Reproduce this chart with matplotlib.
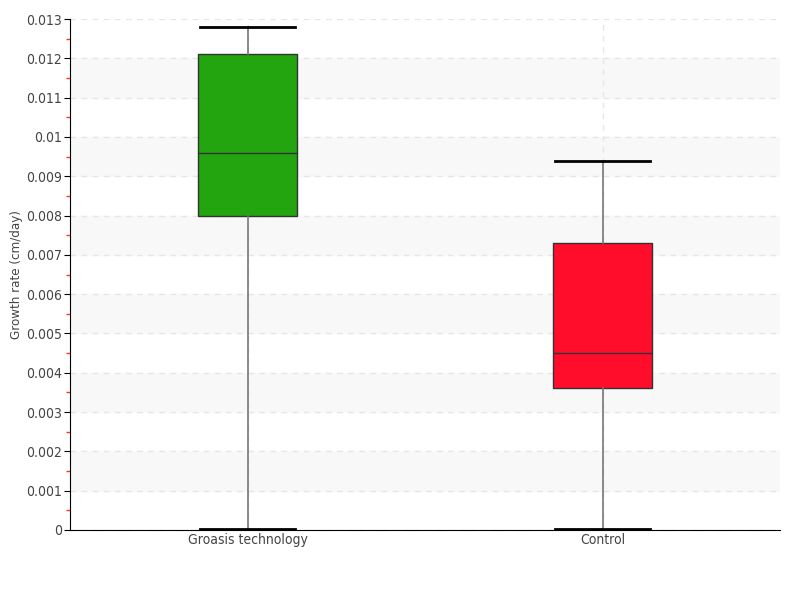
import matplotlib
matplotlib.use("Agg")
import matplotlib.pyplot as plt
from matplotlib.ticker import MultipleLocator

categories = ["Groasis technology", "Control"]
whisker_low = [0.00002, 0.00002]
q1 = [0.0080, 0.0036]
median = [0.0096, 0.0045]
q3 = [0.0121, 0.0073]
whisker_high = [0.0128, 0.0094]
colors = ["#22a50f", "#ff0d2a"]

plt.rcParams['font.family'] = ['DejaVu Sans Condensed', 'Liberation Sans Narrow', 'DejaVu Sans']
plt.rcParams['font.stretch'] = 'condensed'

fig = plt.figure(figsize=(8, 6), dpi=100)
ax = fig.add_axes([0.0875, 0.1167, 0.8875, 0.8516])

# alternating bands
ticks = [i * 0.001 for i in range(14)]
for i in range(1, 13, 2):
    ax.axhspan(ticks[i], ticks[i + 1], color="#f8f8f8", zorder=0)

stats = []
for i, name in enumerate(categories):
    stats.append({"label": name, "whislo": whisker_low[i], "q1": q1[i],
                  "med": median[i], "q3": q3[i], "whishi": whisker_high[i]})

bp = ax.bxp(stats, positions=[0, 1], widths=0.28, patch_artist=True,
            showfliers=False,
            medianprops=dict(color="#333333", linewidth=1),
            whiskerprops=dict(color="#777777", linewidth=1.2),
            capprops=dict(color="black", linewidth=2),
            capwidths=0.27)
for patch, c in zip(bp["boxes"], colors):
    patch.set_facecolor(c)
    patch.set_edgecolor("#333333")
    patch.set_linewidth(1)

ax.set_xlim(-0.5, 1.5)
ax.set_ylim(0, 0.013)
ax.set_yticks(ticks)
ax.set_yticklabels(["0"] + ["%g" % round(t, 3) for t in ticks[1:]])
ax.yaxis.set_minor_locator(MultipleLocator(0.0005))
ax.tick_params(axis="y", which="minor", colors="#ff3333", length=3, width=1)
ax.tick_params(axis="y", which="major", length=4, labelsize=10, labelcolor="#444444", pad=2)
ax.tick_params(axis="x", length=0, labelsize=10, labelcolor="#444444", pad=2)

ax.grid(True, axis="both", linestyle=(0, (4, 4)), color="#e6e6e6", linewidth=1)
ax.set_axisbelow(True)
for s in ["top", "right"]:
    ax.spines[s].set_visible(False)

ax.set_ylabel("Growth rate (cm/day)", fontsize=9.5, color="#444444", labelpad=2)

plt.savefig("out.png")
